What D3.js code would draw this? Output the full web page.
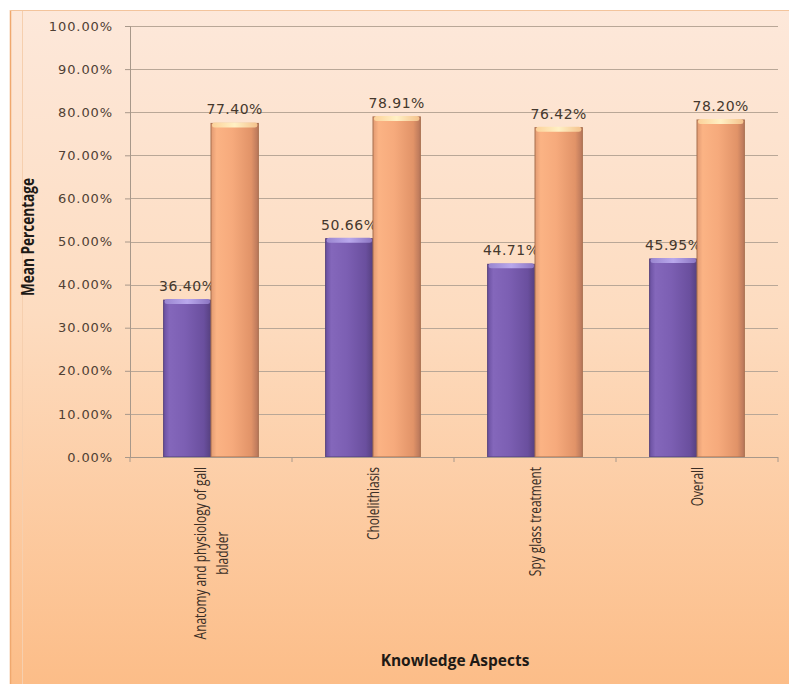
<!DOCTYPE html>
<html>
<head>
<meta charset="utf-8">
<script src="https://cdn.jsdelivr.net/npm/d3@7"></script>
<style>
  html, body { margin: 0; padding: 0; background: #ffffff; }
  svg { display: block; }
</style>
</head>
<body>
<svg id="chart" width="789" height="684"></svg>
<script>
// Knowledge aspects and the two series of mean percentages
const categories = [
  ["Anatomy and physiology of gall", "bladder"],
  ["Cholelithiasis"],
  ["Spy glass treatment"],
  ["Overall"]
];
const seriesA = [36.40, 50.66, 44.71, 45.95];
const seriesB = [77.40, 78.91, 76.42, 78.20];
const yTicks = [0, 10, 20, 30, 40, 50, 60, 70, 80, 90, 100];
const yTitle = "Mean Percentage";
const xTitle = "Knowledge Aspects";

const svg = d3.select("#chart");
const W = 789, H = 684;
const margin = { left: 130, right: 11, top: 26, bottom: 227 };
const plotW = W - margin.left - margin.right;
const plotH = H - margin.top - margin.bottom;

const defs = svg.append("defs");

// chart area background: pale peach fading into orange
const bg = defs.append("linearGradient").attr("id", "bg")
  .attr("x1", 0).attr("y1", 0).attr("x2", 0).attr("y2", 1);
bg.append("stop").attr("offset", "0%").attr("stop-color", "#fde8da");
bg.append("stop").attr("offset", "45%").attr("stop-color", "#fddcc0");
bg.append("stop").attr("offset", "100%").attr("stop-color", "#fcbd88");

// cylindrical shading for the bars
function barGradient(id, stops) {
  const g = defs.append("linearGradient").attr("id", id)
    .attr("x1", 0).attr("y1", 0).attr("x2", 1).attr("y2", 0);
  stops.forEach(([o, c]) => g.append("stop").attr("offset", o).attr("stop-color", c));
}
barGradient("gA", [["0%", "#6a50a0"], ["12%", "#8467bb"], ["45%", "#7c5fb3"], ["85%", "#6a4f9e"], ["100%", "#56407f"]]);
barGradient("gB", [["0%", "#e29a72"], ["12%", "#fbb384"], ["45%", "#f6aa7c"], ["85%", "#e19368"], ["100%", "#b7765a"]]);
barGradient("capA", [["0%", "#9a86d0"], ["50%", "#b9a8ec"], ["100%", "#8c76c2"]]);
barGradient("capB", [["0%", "#fcd29a"], ["50%", "#fff0c4"], ["100%", "#f4c28c"]]);

svg.append("rect").attr("x", 10).attr("y", 10).attr("width", W - 10).attr("height", H - 10)
  .attr("fill", "url(#bg)");
svg.append("line").attr("x1", 10.5).attr("x2", 10.5).attr("y1", 10).attr("y2", H)
  .attr("stroke", "#f0a86e").attr("stroke-width", 1.5);
svg.append("line").attr("x1", 10).attr("x2", W).attr("y1", 10.5).attr("y2", 10.5)
  .attr("stroke", "#f3c49c").attr("stroke-width", 1);
svg.append("line").attr("x1", 22.5).attr("x2", 22.5).attr("y1", 11).attr("y2", H)
  .attr("stroke", "#f6cfae").attr("stroke-width", 1);

const g = svg.append("g").attr("transform", `translate(${margin.left},${margin.top})`);

const x0 = d3.scaleBand().domain(d3.range(categories.length)).range([0, plotW]).paddingInner(0).paddingOuter(0);
const x1 = d3.scaleBand().domain(["A", "B"]).range([0, x0.bandwidth()]).paddingInner(0).paddingOuter(0.71);
const y = d3.scaleLinear().domain([0, 100]).range([plotH, 0]);

// horizontal gridlines
g.append("g").selectAll("line").data(yTicks.filter(t => t > 0)).join("line")
  .attr("x1", 0).attr("x2", plotW)
  .attr("y1", d => Math.round(y(d)) + 0.5).attr("y2", d => Math.round(y(d)) + 0.5)
  .attr("stroke", "#b9a797").attr("stroke-width", 1.2);

// y axis
const yAxis = d3.axisLeft(y).tickValues(yTicks).tickSize(5).tickPadding(12)
  .tickFormat(d => d.toFixed(2) + "%");
const ya = g.append("g").call(yAxis);
ya.select(".domain").attr("stroke", "#a8988a");
ya.selectAll(".tick line").attr("stroke", "#a8988a");
ya.selectAll(".tick text")
  .attr("font-family", "'DejaVu Sans', Verdana, sans-serif")
  .attr("font-size", 13).attr("letter-spacing", 0.9).attr("fill", "#4f4034");

// bars
const groups = g.append("g").selectAll("g").data(categories.map((c, i) => i)).join("g")
  .attr("transform", i => `translate(${x0(i)},0)`);

function drawBars(key, values, fill, cap, edge) {
  groups.append("rect")
    .attr("x", i => x1(key)).attr("y", i => y(values[i]))
    .attr("width", x1.bandwidth()).attr("height", i => plotH - y(values[i]))
    .attr("fill", `url(#${fill})`).attr("stroke", edge).attr("stroke-width", 1);
  groups.append("rect")
    .attr("x", i => x1(key) + 1).attr("y", i => y(values[i]) - 1)
    .attr("width", x1.bandwidth() - 2).attr("height", 5).attr("rx", 2.5)
    .attr("fill", `url(#${cap})`);
  groups.append("text")
    .attr("x", i => x1(key) + x1.bandwidth() / 2).attr("y", i => y(values[i]) - 9)
    .attr("text-anchor", "middle")
    .attr("font-family", "'DejaVu Sans', Verdana, sans-serif")
    .attr("font-size", 14).attr("letter-spacing", 0.5).attr("fill", "#45382d")
    .text(i => values[i].toFixed(2) + "%");
}
drawBars("A", seriesA, "gA", "capA", "#55407c");
drawBars("B", seriesB, "gB", "capB", "#a8704f");

// x axis
const xa = g.append("g").attr("transform", `translate(0,${plotH})`);
xa.append("line").attr("x1", 0).attr("x2", plotW).attr("y1", 0.5).attr("y2", 0.5).attr("stroke", "#a8988a");
xa.selectAll(".tk").data(d3.range(categories.length + 1)).join("line").attr("class", "tk")
  .attr("x1", i => i * x0.bandwidth()).attr("x2", i => i * x0.bandwidth())
  .attr("y1", 0).attr("y2", 5).attr("stroke", "#a8988a");

// rotated category labels, condensed along the reading direction
const lineH = 23;
const squeeze = 0.7;
xa.selectAll(".cat").data(categories).join("text").attr("class", "cat")
  .attr("transform", (d, i) => `translate(${x0(i) + x0.bandwidth() / 2 - (d.length - 1) * lineH / 2 + 6},${10}) rotate(-90) scale(${squeeze},1)`)
  .attr("font-family", "'Open Sans', sans-serif")
  .attr("font-size", 17).attr("fill", "#3a2e26")
  .each(function (d) {
    const t = d3.select(this);
    d.forEach((line, k) => {
      t.append("tspan").attr("x", 0).attr("dy", k === 0 ? 0 : lineH)
        .attr("text-anchor", "end").text(line);
    });
  });

// centre the second line of a wrapped label under the first
xa.selectAll(".cat").each(function (d) {
  if (d.length > 1) {
    const spans = d3.select(this).selectAll("tspan").nodes();
    const w0 = spans[0].getComputedTextLength();
    spans.slice(1).forEach(s => {
      d3.select(s).attr("text-anchor", "middle").attr("x", -w0 / 2);
    });
  }
});

// axis titles
svg.append("text")
  .attr("transform", `translate(34,237) rotate(-90) scale(0.8,1)`)
  .attr("text-anchor", "middle")
  .attr("font-family", "'Open Sans', sans-serif")
  .attr("font-weight", "bold").attr("font-size", 17).attr("fill", "#1e1a16")
  .text(yTitle);
svg.append("text")
  .attr("x", 455).attr("y", 666).attr("text-anchor", "middle")
  .attr("font-family", "'Open Sans', sans-serif")
  .attr("font-weight", "bold").attr("font-size", 15.5).attr("fill", "#1e1a16")
  .text(xTitle);
</script>
</body>
</html>
